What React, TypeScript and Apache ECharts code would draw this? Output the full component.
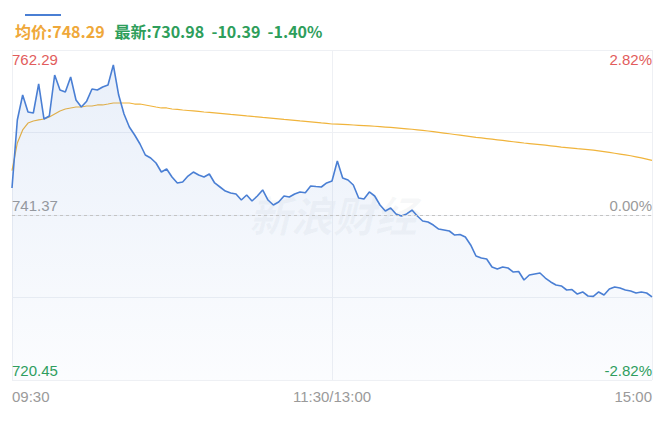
import React, { useEffect, useRef } from 'react';
import * as echarts from 'echarts';

const prevClose = 741.37;
const priceMax = 762.29;
const priceMin = 720.45;
const pctMax = 2.82;
const pctLabels = [-2.82, 0, 2.82];
const timeLabels = ['09:30', '11:30', '15:00'];
const middleLabel = '11:30/13:00';

// one point every 2 minutes, 09:30-11:30 and 13:02-15:00
const price = [
  744.79, 753.42, 756.58, 754.43, 754.3, 757.98, 753.54, 753.92, 759.12, 757.22,
  756.97, 758.87, 755.95, 755.06, 755.8, 757.35, 757.22, 757.6, 757.85, 760.39,
  756.58, 754.18, 752.53, 751.51, 750.37, 748.98, 748.6, 747.96, 746.82, 747.2,
  746.19, 745.43, 745.55, 746.31, 746.82, 746.44, 746.19, 746.57, 745.43, 744.92,
  744.41, 744.16, 744.03, 743.27, 743.91, 743.15, 743.78, 744.54, 743.27, 742.64,
  743.02, 743.78, 743.65, 744.03, 744.29, 744.2, 745.05, 744.98, 744.92, 745.43,
  745.68, 748.22, 746.06, 745.81, 745.17, 743.53, 743.4, 744.29, 743.78, 742.64,
  741.88, 742.26, 741.5, 741.24, 741.5, 742.0, 741.24, 740.61, 740.48, 740.1,
  739.59, 739.47, 739.34, 738.83, 738.9, 738.58, 737.57, 736.17, 735.92, 735.79,
  734.78, 734.52, 734.78, 734.65, 734.14, 734.2, 733.13, 733.76, 733.89, 734.02,
  733.38, 732.88, 732.49, 732.37, 731.86, 731.92, 731.35, 731.61, 731.1, 731.05,
  731.61, 731.23, 731.99, 732.24, 732.11, 731.86, 731.73, 731.48, 731.61, 731.48,
  730.98,
];

const avgPrice = [
  747.0, 750.5, 752.15, 753.03, 753.29, 753.42, 753.54, 753.8, 754.18, 754.56,
  754.81, 754.94, 755.06, 755.06, 755.19, 755.19, 755.32, 755.32, 755.44, 755.57,
  755.57, 755.57, 755.57, 755.44, 755.44, 755.32, 755.19, 755.06, 754.94, 754.94,
  754.81, 754.75, 754.68, 754.62, 754.56, 754.5, 754.43, 754.37, 754.31, 754.25,
  754.19, 754.12, 754.06, 754.0, 753.93, 753.87, 753.81, 753.74, 753.68, 753.62,
  753.56, 753.49, 753.43, 753.37, 753.3, 753.24, 753.18, 753.12, 753.05, 752.99,
  752.91, 752.88, 752.85, 752.82, 752.78, 752.74, 752.7, 752.66, 752.62, 752.57,
  752.52, 752.47, 752.42, 752.36, 752.3, 752.24, 752.17, 752.1, 752.02, 751.94,
  751.85, 751.76, 751.67, 751.58, 751.49, 751.4, 751.31, 751.22, 751.14, 751.06,
  750.98, 750.9, 750.82, 750.74, 750.66, 750.58, 750.5, 750.43, 750.36, 750.29,
  750.22, 750.14, 750.06, 749.98, 749.92, 749.85, 749.78, 749.72, 749.66, 749.6,
  749.5, 749.4, 749.3, 749.2, 749.1, 749.0, 748.88, 748.75, 748.62, 748.46,
  748.29,
];

const hhmm = (m: number) =>
  String(Math.floor(m / 60)).padStart(2, '0') + ':' + String(m % 60).padStart(2, '0');

const times: string[] = [];
for (let m = 9 * 60 + 30; m <= 11 * 60 + 30; m += 2) times.push(hhmm(m));
for (let m = 13 * 60 + 2; m <= 15 * 60; m += 2) times.push(hhmm(m));

const RED = '#e25c5c';
const GREEN = '#2e9e5b';
const GRAY = '#9a9a9a';
const GRID_LINE = '#eef0f4';
const NUM_FONT = 'Liberation Sans, Arial, sans-serif';

const App: React.FC = () => {
  const chartRef = useRef<HTMLDivElement | null>(null);

  useEffect(() => {
    const chart = echarts.init(chartRef.current!, undefined, { renderer: 'svg' });

    const last = price[price.length - 1];
    const change = last - prevClose;
    const changePct = (change / prevClose) * 100;
    const lastAvg = avgPrice[avgPrice.length - 1];
    const showTime = (i: number, v?: string) => timeLabels.includes(v ?? times[i]);
    const labelColor = (v: number) => (v > 0.0001 ? RED : v < -0.0001 ? GREEN : GRAY);

    const option = {
      animation: false,
      title: {
        left: 10,
        top: 17,
        text:
          `{a|均价:${lastAvg.toFixed(2)}}  ` +
          `{b|最新:${last.toFixed(2)}  ${change.toFixed(2)}  ${changePct.toFixed(2)}%}`,
        textStyle: {
          rich: {
            a: { color: '#efa83a', fontSize: 16, fontFamily: 'Noto Sans CJK SC, sans-serif' },
            b: { color: GREEN, fontSize: 16, fontFamily: 'Noto Sans CJK SC, sans-serif' },
          },
        },
      },
      graphic: [
        { type: 'rect', left: 25, top: 14, shape: { width: 36, height: 2 }, style: { fill: '#4a7fd4' } },
        {
          type: 'text',
          left: 'center',
          top: 192,
          silent: true,
          style: {
            text: '新浪财经',
            fill: 'rgba(120,130,150,0.06)',
            font: 'italic bold 42px "Noto Sans CJK SC"',
          },
        },
      ],
      grid: { left: 12, right: 14, top: 50, bottom: 53 },
      xAxis: {
        type: 'category',
        data: times,
        boundaryGap: false,
        axisLine: { lineStyle: { color: GRID_LINE } },
        axisTick: { show: false },
        axisLabel: {
          interval: (i: number, v: string) => showTime(i, v),
          formatter: (v: string) => (v === '11:30' ? middleLabel : v),
          color: GRAY,
          fontSize: 15,
          fontFamily: NUM_FONT,
          margin: 9,
          alignMinLabel: 'left',
          alignMaxLabel: 'right',
        },
        splitLine: {
          show: true,
          interval: (i: number, v: string) => showTime(i, v),
          lineStyle: { color: GRID_LINE },
        },
      },
      yAxis: [
        {
          type: 'value',
          min: priceMin,
          max: priceMax,
          position: 'left',
          axisLine: { show: false },
          axisTick: { show: false },
          splitLine: { show: false },
          axisLabel: {
            inside: true,
            customValues: [priceMin, prevClose, priceMax],
            formatter: (v: number) => Number(v).toFixed(2),
            color: (v: number) => labelColor(Number(v) - prevClose),
            fontSize: 15,
            fontFamily: NUM_FONT,
            margin: 0,
            verticalAlign: 'bottom',
            verticalAlignMaxLabel: 'top',
            padding: [2, 0, 2, 0],
          },
        },
        {
          type: 'value',
          min: -pctMax,
          max: pctMax,
          interval: pctMax / 2,
          position: 'right',
          axisLine: { show: false },
          axisTick: { show: false },
          splitLine: {
            show: true,
            lineStyle: { color: [GRID_LINE, GRID_LINE, 'rgba(0,0,0,0)', GRID_LINE, GRID_LINE] },
          },
          axisLabel: {
            inside: true,
            formatter: (v: number) => {
              const r = Math.round(Number(v) * 100) / 100;
              return pctLabels.includes(r) ? r.toFixed(2) + '%' : '';
            },
            color: (v: number) => labelColor(Math.round(Number(v) * 100) / 100),
            fontSize: 15,
            fontFamily: NUM_FONT,
            margin: 0,
            verticalAlign: 'bottom',
            verticalAlignMaxLabel: 'top',
            padding: [2, 0, 2, 0],
          },
        },
      ],
      series: [
        {
          name: '价格',
          type: 'line',
          data: price,
          yAxisIndex: 0,
          symbol: 'none',
          lineStyle: { color: '#4a7fd4', width: 1.6 },
          areaStyle: {
            origin: 'start',
            color: new echarts.graphic.LinearGradient(0, 0, 0, 1, [
              { offset: 0, color: 'rgba(74,127,212,0.17)' },
              { offset: 1, color: 'rgba(74,127,212,0.03)' },
            ]),
          },
          markLine: {
            silent: true,
            symbol: 'none',
            label: { show: false },
            lineStyle: { color: '#c4c4c4', type: [3, 3], width: 1 },
            data: [{ yAxis: prevClose }],
          },
          z: 3,
        },
        {
          name: '均价',
          type: 'line',
          data: avgPrice,
          yAxisIndex: 0,
          symbol: 'none',
          lineStyle: { color: '#f0b43c', width: 1.2 },
          z: 2,
        },
      ],
    };

    chart.setOption(option);
    return () => {
      chart.dispose();
    };
  }, []);

  return (
    <div
      ref={chartRef}
      style={{ position: 'fixed', left: 0, top: 0, width: '666px', height: '433px', background: '#fff' }}
    />
  );
};

export default App;
